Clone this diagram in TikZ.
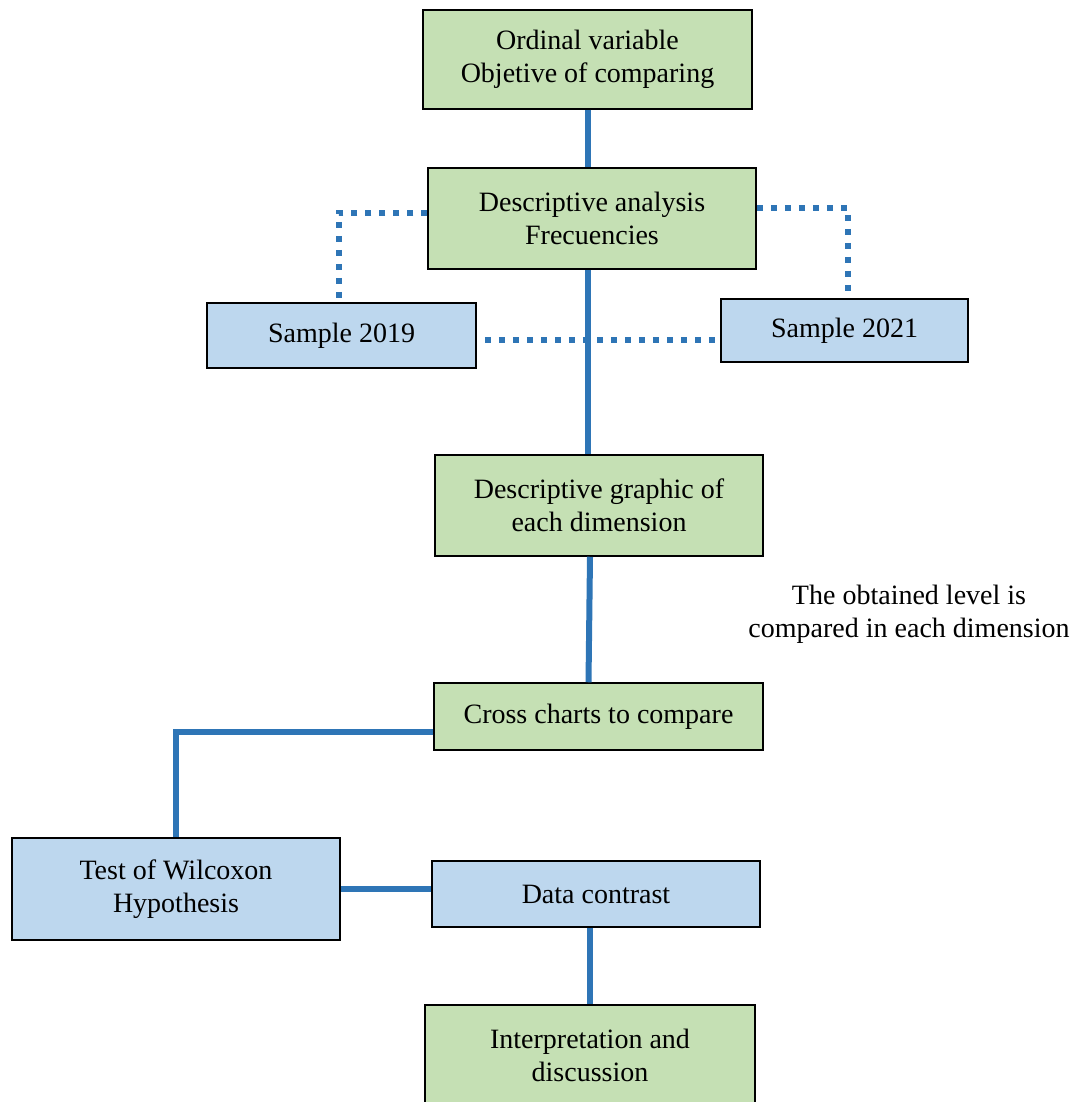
\documentclass[tikz,border=0pt]{standalone}
\usepackage{fontspec}
\setmainfont{Liberation Serif}
\usepackage{tikz}
\usetikzlibrary{arrows,positioning,calc}
\definecolor{boxgreen}{HTML}{C5E0B4}
\definecolor{boxblue}{HTML}{BDD7EE}
\definecolor{linkblue}{HTML}{2E75B6}
\tikzstyle{greenbox}=[draw,fill=boxgreen,line width=1.5pt,minimum width=328pt,minimum height=100pt,inner sep=0pt,align=center,font=\fontsize{28}{33}\selectfont]
\tikzstyle{bluebox}=[greenbox,fill=boxblue]
\tikzstyle{link}=[linkblue,line width=6pt]
\tikzstyle{dotlink}=[linkblue,line width=6pt,dash pattern=on 6pt off 8pt]

\begin{document}
\begin{tikzpicture}[x=1pt,y=-1pt]
    \useasboundingbox (0,0) rectangle (1077,1102);
    \node [greenbox,minimum width=329pt,minimum height=99pt] (ordinal) at (587.5,59.5) {Ordinal variable\\Objetive of comparing};
    \node [greenbox,minimum height=101pt] (descr) at (592,218.5) {Descriptive analysis\\Frecuencies};
    \node [bluebox,minimum width=269pt,minimum height=65pt] (s19) at (341.5,335.5) {Sample 2019};
    \node [bluebox,minimum width=247pt,minimum height=63pt] (s21) at (844.5,330.5) {Sample 2021};
    \node [greenbox,minimum height=101pt] (graphic) at (599,505.5) {Descriptive graphic of\\each dimension};
    \node [align=center,font=\fontsize{28}{33}\selectfont] (note) at (909,614) {The obtained level is\\compared in each dimension};
    \node [greenbox,minimum width=329pt,minimum height=67pt] (cross) at (598.5,716.5) {Cross charts to compare};
    \node [bluebox,minimum height=102pt] (wilcoxon) at (176,889) {Test of Wilcoxon\\Hypothesis};
    \node [bluebox,minimum height=66pt] (contrast) at (596,894) {Data contrast};
    \node [greenbox,minimum width=330pt] (interp) at (590,1055) {Interpretation and\\discussion};

    % main line
    \draw [link] (ordinal.south) -- (ordinal.south |- descr.north);
    \draw [link] ($(descr.south)+(-4,0)$) -- ($(descr.south |- graphic.north)+(-4,0)$);
    \draw [link] ($(graphic.south)+(-9,0)$) -- ($(cross.north)+(-10,0)$);
    \draw [link] ($(cross.west)+(0,15)$) -| (wilcoxon.north);
    \draw [link] (wilcoxon.east) -- (wilcoxon.east -| contrast.west);
    \draw [link] (interp.north |- contrast.south) -- (interp.north);

    % samples
    \draw [dotlink] ($(descr.west)+(0,-6)$) -| ($(s19.north)+(-3,0)$);
    \draw [dotlink] ($(descr.east)+(0,-11)$) -| ($(s21.north)+(3,0)$);
    \draw [dotlink] ($(s19.east)+(8,4)$) -- ($(s21.west)+(-3,9)$);
\end{tikzpicture}
\end{document}
